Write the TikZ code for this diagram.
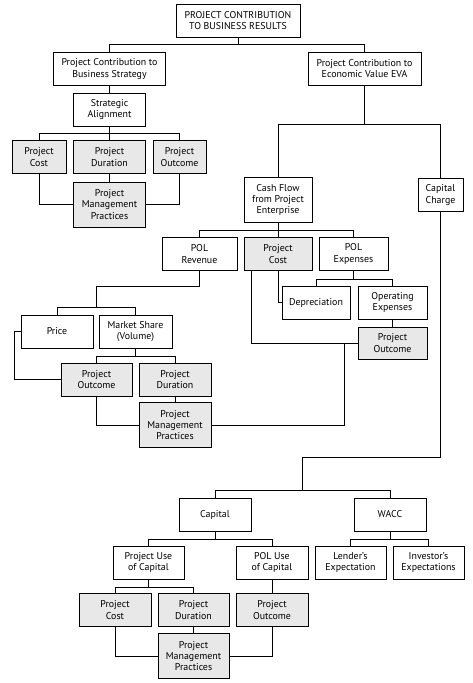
\documentclass[tikz,border=0pt]{standalone}
\usepackage{fontspec}
\setmainfont{PT Sans}
\usepackage{tikz}
\usetikzlibrary{calc}

\begin{document}
\begin{tikzpicture}[
  x=1pt, y=-1pt,
  box/.style={draw, line width=1pt, fill=white, align=center, inner sep=0pt,
    outer sep=0pt, font=\fontsize{9.9}{11.2}\selectfont,
    minimum width=#1, minimum height=33pt},
  box/.default=72pt,
  shade/.style={box=#1, fill=gray!18},
  shade/.default=72pt,
  tall/.style={minimum height=45pt},
  link/.style={line width=1pt},
]
\useasboundingbox (0,0) rectangle (473,683);

% --- top levels ---
\node[box=124pt] (top) at (238, 20.5) {PROJECT CONTRIBUTION\\TO BUSINESS RESULTS};
\node[box=112pt] (pcbs) at (109.5, 69) {Project Contribution to\\Business Strategy};
\node[box=113pt] (pceva) at (364.5, 68.5) {Project Contribution to\\Economic Value EVA};

% --- strategy branch ---
\node[box] (sa) at (109.5, 109.5) {Strategic\\Alignment};
\node[shade=54pt] (costA) at (39, 157) {Project\\Cost};
\node[shade] (durA) at (109.5, 157) {Project\\Duration};
\node[shade=53pt] (outA) at (179.5, 157) {Project\\Outcome};
\node[shade, tall] (pmpA) at (109.5, 204.5) {Project\\Management\\Practices};

% --- EVA branch ---
\node[box=68pt, tall] (cf) at (278, 200) {Cash Flow\\from Project\\Enterprise};
\node[box=45pt] (cc) at (440.5, 195) {Capital\\Charge};

% --- cash flow ---
\node[box=75pt] (rev) at (199.5, 254) {POL\\Revenue};
\node[shade=68pt] (costB) at (278, 254) {Project\\Cost};
\node[box=69pt] (exp) at (353.5, 254) {POL\\Expenses};
\node[box=68pt] (dep) at (316, 302.5) {Depreciation};
\node[box=69pt] (opex) at (392.5, 302.5) {Operating\\Expenses};
\node[shade=69pt, minimum height=32pt] (outB) at (392.5, 343) {Project\\Outcome};
\node[box] (price) at (57, 331.5) {Price};
\node[box=73pt] (ms) at (135.5, 331.5) {Market Share\\(Volume)};
\node[shade=71pt] (outC) at (96.5, 379.5) {Project\\Outcome};
\node[shade] (durC) at (175, 379.5) {Project\\Duration};
\node[shade, tall] (pmpC) at (175, 425) {Project\\Management\\Practices};

% --- capital charge ---
\node[box] (cap) at (215, 514.5) {Capital};
\node[box] (wacc) at (390, 514.5) {WACC};
\node[box=71pt] (puc) at (148.5, 562.5) {Project Use\\of Capital};
\node[box] (polc) at (272, 562.5) {POL Use\\of Capital};
\node[box=71pt] (lend) at (350.5, 562.5) {Lender's\\Expectation};
\node[box=71pt] (inv) at (428.5, 562.5) {Investor's\\Expectations};
\node[shade] (costD) at (115, 610) {Project\\Cost};
\node[shade=71pt] (durD) at (193.5, 610) {Project\\Duration};
\node[shade] (outD) at (272, 610) {Project\\Outcome};
\node[shade=71pt, tall] (pmpD) at (193.5, 656) {Project\\Management\\Practices};

% --- connectors ---
\draw[link] (top.south) -- ++(0,7) -| (pcbs.north);
\draw[link] (top.south) ++(0,7) -| (pceva.north);
\draw[link] (pcbs) -- (sa);
\draw[link] (sa) -- (durA);
\draw[link] (costA.north) -- ++(0,-7) -| (outA.north);
\draw[link] (durA) -- (pmpA);
\draw[link] (costA.south) |- (pmpA.west);
\draw[link] (outA.south) |- (pmpA.east);

\draw[link] (pceva.south) -- ++(0,40);
\draw[link] (cf.north) -- ++(0,-53) -| (cc.north);
\draw[link] (cf) -- (costB);
\draw[link] (rev.north) -- ++(0,-7) -| (exp.north);
\draw[link] (rev.south) -- ++(0,16) -| ([yshift=8pt]$(price.north)!.5!(ms.north)$);
\draw[link] (price.north) -- ++(0,-8) -| (ms.north);
\draw[link] (costB.south) |- (dep.west);
\draw[link] ([xshift=-27pt]costB.south) |- (outB.west);
\draw[link] (exp.south) -- ++(0,8);
\draw[link] (dep.north) -- ++(0,-7) -| (opex.north);
\draw[link] (opex) -- (outB);
\draw[link] ([xshift=-14pt]outB.west) |- (pmpC.east);
\draw[link] (ms.south) -- ++(0,8);
\draw[link] (outC.north) -- ++(0,-7) -| (durC.north);
\draw[link] (price.west) -- ++(-7,0) |- (outC.west);
\draw[link] (outC.south) |- (pmpC.west);
\draw[link] (durC) -- (pmpC);

\draw[link] (cc.south) -- ++(0,246) -| ([yshift=8pt]$(cap.north)!.5!(wacc.north)$);
\draw[link] (cap.north) -- ++(0,-8) -| (wacc.north);
\draw[link] (cap.south) -- ++(0,8);
\draw[link] (puc.north) -- ++(0,-7) -| (polc.north);
\draw[link] (wacc.south) -- ++(0,8);
\draw[link] (lend.north) -- ++(0,-7) -| (inv.north);
\draw[link] (puc.south) -- ++(0,8);
\draw[link] (costD.north) -- ++(0,-6) -| (durD.north);
\draw[link] (polc) -- (outD);
\draw[link] (durD) -- (pmpD);
\draw[link] (costD.south) |- (pmpD.west);
\draw[link] (outD.south) |- (pmpD.east);
\end{tikzpicture}
\end{document}
